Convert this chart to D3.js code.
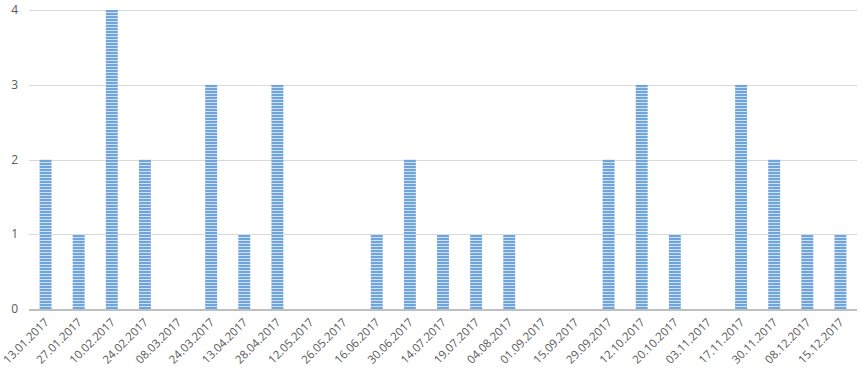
<html>
<head>
<script src="https://d3js.org/d3.v7.min.js"></script>
<style>
    body { margin: 0; background-color: #fff; font-family: 'Open Sans', 'DejaVu Sans', sans-serif; }
</style>
</head>
<body>
<svg width="861" height="376"></svg>
<script>
    var dates = ["13.01.2017", "27.01.2017", "10.02.2017", "24.02.2017", "08.03.2017",
                 "24.03.2017", "13.04.2017", "28.04.2017", "12.05.2017", "26.05.2017",
                 "16.06.2017", "30.06.2017", "14.07.2017", "19.07.2017", "04.08.2017",
                 "01.09.2017", "15.09.2017", "29.09.2017", "12.10.2017", "20.10.2017",
                 "03.11.2017", "17.11.2017", "30.11.2017", "08.12.2017", "15.12.2017"];
    var counts = [2, 1, 4, 2, 0, 3, 1, 3, 0, 0, 1, 2, 1, 1, 1, 0, 0, 2, 3, 1, 0, 3, 2, 1, 1];
    var yTicks = [0, 1, 2, 3, 4];

    var svg = d3.select("svg"),
        margin = {top: 10, right: 4, bottom: 67, left: 29},
        width = +svg.attr("width") - margin.left - margin.right,
        height = +svg.attr("height") - margin.top - margin.bottom,
        g = svg.append("g").attr("transform", "translate(" + margin.left + "," + margin.top + ")");

    // striped fill
    var pat = svg.append("defs").append("pattern")
        .attr("id", "stripes")
        .attr("patternUnits", "userSpaceOnUse")
        .attr("width", 6).attr("height", 3);
    pat.append("rect").attr("width", 6).attr("height", 3).attr("fill", "#cfe0f3");
    pat.append("rect").attr("width", 6).attr("height", 2).attr("fill", "#6fa4dc");

    var x = d3.scaleBand().domain(dates).range([0, width]).paddingInner(0.64).paddingOuter(0.32);
    var y = d3.scaleLinear().domain([0, 4]).range([height, 0]);

    // gridlines
    g.append("g").selectAll("line")
        .data(yTicks.filter(function(d) { return d > 0; }))
        .enter().append("line")
        .attr("x1", 0).attr("x2", width)
        .attr("y1", function(d) { return Math.round(y(d)) + 0.5; })
        .attr("y2", function(d) { return Math.round(y(d)) + 0.5; })
        .attr("stroke", "#d9d9d9").attr("stroke-width", 1);

    // y labels
    g.append("g").selectAll("text")
        .data(yTicks)
        .enter().append("text")
        .attr("x", -11)
        .attr("y", function(d) { return y(d); })
        .attr("dy", "0.35em")
        .attr("text-anchor", "end")
        .attr("fill", "#595959")
        .style("font-size", "12px")
        .text(function(d) { return d; });

    g.selectAll(".bar")
        .data(counts)
        .enter().append("rect")
        .attr("class", "bar")
        .attr("x", function(d, i) { return x(dates[i]); })
        .attr("y", function(d) { return y(d); })
        .attr("width", x.bandwidth())
        .attr("height", function(d) { return height - y(d); })
        .attr("fill", "url(#stripes)");

    // baseline
    g.append("line")
        .attr("x1", 0).attr("x2", width)
        .attr("y1", height + 1).attr("y2", height + 1)
        .attr("stroke", "#bfbfbf").attr("stroke-width", 2);

    var xAxis = g.append("g")
        .attr("transform", "translate(0," + height + ")")
        .call(d3.axisBottom(x).tickSize(0).tickPadding(0));
    xAxis.select(".domain").remove();
    xAxis.selectAll("text")
        .attr("fill", "#595959")
        .style("font-size", "11.5px")
        .style("font-family", "'Open Sans', 'DejaVu Sans', sans-serif")
        .attr("text-anchor", "end")
        .attr("dy", 0)
        .attr("transform", "translate(4,14) rotate(-45)");
</script>
</body>
</html>
